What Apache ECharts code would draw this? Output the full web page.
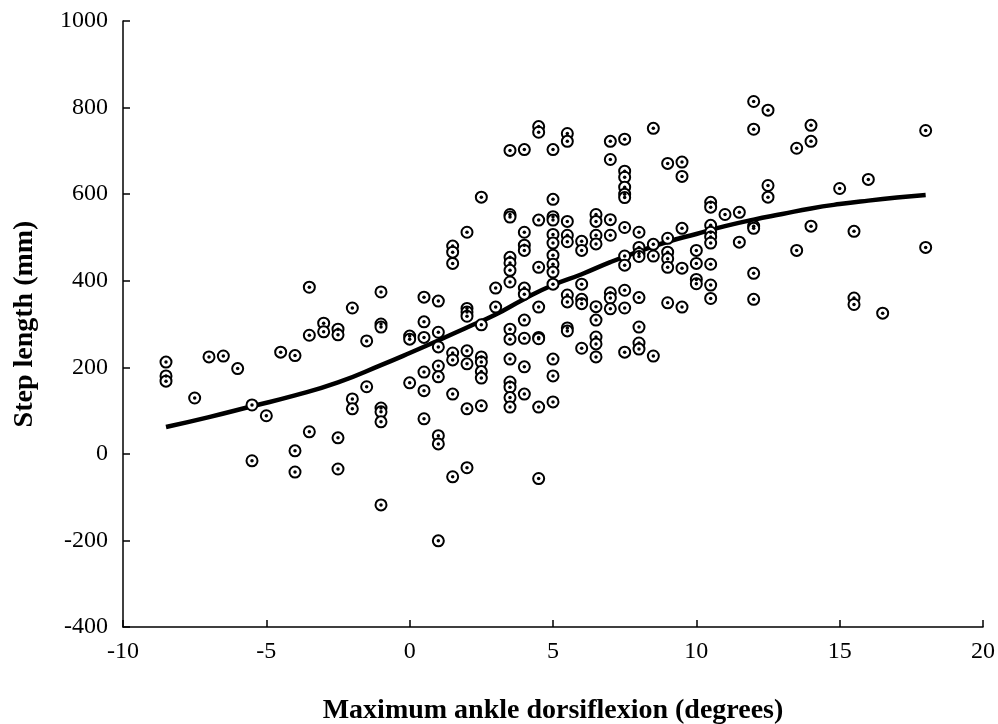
<!DOCTYPE html>
<html>
<head>
<meta charset="utf-8">
<script src="https://cdn.jsdelivr.net/npm/echarts@6/dist/echarts.min.js"></script>
<style>
  html, body { margin: 0; padding: 0; background: #fff; }
  #chart { width: 998px; height: 724px; }
</style>
</head>
<body>
<div id="chart"></div>
<script>
// dorsiflexion columns (degrees) and the step lengths (mm) measured in each
const dorsiflexion = [
  -8.5, -7.5, -7, -6.5, -6, -5.5, -5, -4.5, -4, -3.5, -3, -2.5, -2, -1.5, -1,
  0, 0.5, 1, 1.5, 2, 2.5, 3, 3.5, 4, 4.5, 5, 5.5, 6, 6.5, 7, 7.5, 8, 8.5, 9,
  9.5, 10, 10.5, 11, 11.5, 12, 12.5, 13.5, 14, 15, 15.5, 16, 16.5, 18
];
const stepLengths = [
  [212, 180, 168],
  [129],
  [224],
  [226],
  [197],
  [113, -16],
  [88],
  [235],
  [227, 7, -42],
  [385, 274, 51],
  [302, 282],
  [288, 275, 37, -35],
  [337, 127, 104],
  [261, 155],
  [374, 300, 293, 106, 97, 74, -118],
  [272, 265, 164],
  [362, 305, 269, 189, 146, 81],
  [353, 281, 247, 203, 178, 42, 23, -201],
  [480, 466, 440, 233, 217, 138, -53],
  [512, 336, 328, 318, 238, 208, 104, -32],
  [593, 298, 224, 212, 190, 175, 111],
  [383, 339],
  [701, 553, 547, 454, 441, 424, 397, 288, 265, 219, 166, 154, 130, 108],
  [703, 512, 482, 470, 383, 369, 309, 267, 201, 138],
  [756, 743, 540, 431, 339, 269, 266, 108, -57],
  [703, 588, 548, 540, 507, 487, 459, 438, 420, 392, 219, 180, 120],
  [740, 722, 537, 505, 490, 367, 351, 291, 284],
  [491, 470, 392, 357, 347, 244],
  [553, 537, 505, 485, 340, 309, 270, 254, 224],
  [722, 680, 541, 505, 372, 360, 335],
  [727, 653, 639, 616, 600, 592, 523, 457, 436, 378, 337, 235],
  [512, 477, 463, 456, 361, 293, 256, 242],
  [752, 484, 457, 226],
  [671, 498, 466, 451, 431, 349],
  [674, 641, 521, 429, 339],
  [470, 440, 403, 393],
  [581, 570, 528, 512, 501, 487, 438, 390, 359],
  [553],
  [558, 489],
  [814, 750, 526, 521, 417, 357],
  [794, 620, 593],
  [706, 470],
  [759, 722, 526],
  [613],
  [514, 360, 345],
  [634],
  [325],
  [747, 477]
];

// fitted curve
const fitX = [-8.5, -7, -5.5, -4, -2.5, -1, 0, 1, 2, 3, 4, 5, 6, 7, 8, 9, 10, 11, 12, 13, 14, 15, 16, 17, 18];
const fitY = [62, 85, 110, 135, 165, 205, 233, 262, 292, 322, 358, 390, 415, 443, 468, 490, 508, 526, 541, 554, 567, 577, 585, 592, 598];

const xTicks = { min: -10, max: 20, interval: 5 };
const yTicks = { min: -400, max: 1000, interval: 200 };

const points = [];
dorsiflexion.forEach((x, i) => {
  stepLengths[i].forEach((y) => points.push([x, y]));
});
const curve = fitX.map((x, i) => [x, fitY[i]]);

const font = '"Liberation Serif", "Times New Roman", serif';
const chart = echarts.init(document.getElementById('chart'));

chart.setOption({
  animation: false,
  backgroundColor: '#fff',
  grid: { left: 123, right: 15, top: 21, bottom: 97, outerBoundsMode: 'none', containLabel: false },
  xAxis: {
    type: 'value',
    min: xTicks.min,
    max: xTicks.max,
    interval: xTicks.interval,
    name: 'Maximum ankle dorsiflexion (degrees)',
    nameLocation: 'middle',
    nameGap: 70,
    nameTextStyle: { fontFamily: font, fontSize: 28, fontWeight: 'bold', color: '#000' },
    axisLine: { onZero: false, lineStyle: { color: '#000', width: 1.5 } },
    axisTick: { inside: true, length: 7, lineStyle: { color: '#000', width: 1.5 } },
    axisLabel: { fontFamily: font, fontSize: 24, color: '#000', margin: 13, formatter: (v) => String(v) },
    splitLine: { show: false }
  },
  yAxis: {
    type: 'value',
    min: yTicks.min,
    max: yTicks.max,
    interval: yTicks.interval,
    name: 'Step length (mm)',
    nameLocation: 'middle',
    nameGap: 84,
    nameTextStyle: { fontFamily: font, fontSize: 28, fontWeight: 'bold', color: '#000' },
    axisLine: { onZero: false, lineStyle: { color: '#000', width: 1.5 } },
    axisTick: { inside: true, length: 7, lineStyle: { color: '#000', width: 1.5 } },
    axisLabel: { fontFamily: font, fontSize: 24, color: '#000', margin: 15, formatter: (v) => String(v) },
    splitLine: { show: false }
  },
  series: [
    {
      type: 'line',
      data: curve,
      smooth: true,
      showSymbol: false,
      lineStyle: { color: '#000', width: 4.5 },
      z: 1
    },
    {
      type: 'scatter',
      data: points,
      symbol: 'circle',
      symbolSize: 11,
      itemStyle: { color: '#fff', borderColor: '#000', borderWidth: 2, opacity: 1 },
      z: 2
    },
    {
      type: 'scatter',
      data: points,
      symbol: 'circle',
      symbolSize: 3.5,
      itemStyle: { color: '#000', opacity: 1 },
      z: 3
    }
  ]
});
</script>
</body>
</html>
